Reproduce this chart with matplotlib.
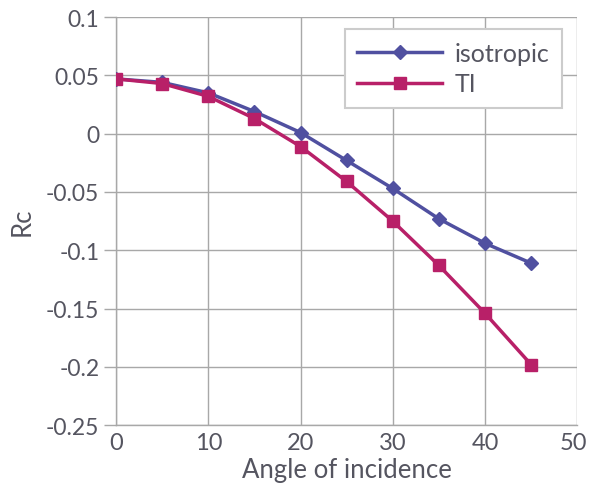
import matplotlib
matplotlib.use("Agg")
import matplotlib.pyplot as plt
import matplotlib.transforms as mtransforms

angles = [0, 5, 10, 15, 20, 25, 30, 35, 40, 45]
isotropic = [0.047, 0.044, 0.035, 0.019, 0.001, -0.023, -0.047, -0.073, -0.094, -0.111]
ti = [0.047, 0.043, 0.032, 0.013, -0.011, -0.041, -0.075, -0.113, -0.154, -0.198]
xticks = [0, 10, 20, 30, 40, 50]
yticks = [-0.25, -0.2, -0.15, -0.1, -0.05, 0, 0.05, 0.1]
ytick_labels = ["-0.25", "-0.2", "-0.15", "-0.1", "-0.05", "0", "0.05", "0.1"]

plt.rcParams['font.family'] = ['Lato', 'DejaVu Sans']
txt = '#555560'
grid = '#a8a8a8'

fig = plt.figure(figsize=(5.89, 5.02), dpi=100)
ax = fig.add_axes([0.197, 0.151, 0.783, 0.813])

ax.plot(angles, isotropic, color='#5050a0', lw=2.5, marker='D', ms=7, label='isotropic', zorder=3)
ax.plot(angles, ti, color='#b82068', lw=2.5, marker='s', ms=8.5, label='TI', zorder=4)

ax.set_xlim(0, 50)
ax.set_ylim(-0.25, 0.1)
ax.set_xticks(xticks)
ax.set_xticklabels([str(v) for v in xticks])
ax.set_yticks(yticks)
ax.set_yticklabels(ytick_labels)
ax.grid(True, color=grid, lw=1)
ax.set_axisbelow(True)
for s in ['top', 'right']:
    ax.spines[s].set_visible(False)
for s in ['left', 'bottom']:
    ax.spines[s].set_color(grid)
    ax.spines[s].set_linewidth(1)
ax.tick_params(axis='x', length=0, pad=5, labelsize=17, labelcolor=txt)
ax.tick_params(axis='y', length=9, width=1, color=grid, pad=3, labelsize=16.5, labelcolor=txt)
ax.set_xlabel('Angle of incidence', fontsize=18.5, color=txt, labelpad=3)
ax.set_ylabel('Rc', fontsize=18.5, color=txt, labelpad=8)

# nudge the last x tick label so it stays inside the figure
last = ax.get_xticklabels()[-1]
last.set_transform(last.get_transform() + mtransforms.ScaledTranslation(-4/100, 0, fig.dpi_scale_trans))

leg = ax.legend(loc='upper right', bbox_to_anchor=(0.967, 0.97), fontsize=18,
                frameon=True, fancybox=False, edgecolor='#cccccc', handlelength=3.4,
                handletextpad=0.5, labelspacing=0.3, borderaxespad=0,
                labelcolor=txt, borderpad=0.5, framealpha=1)
leg.get_frame().set_linewidth(1.5)

fig.savefig('out.png', dpi=100)
